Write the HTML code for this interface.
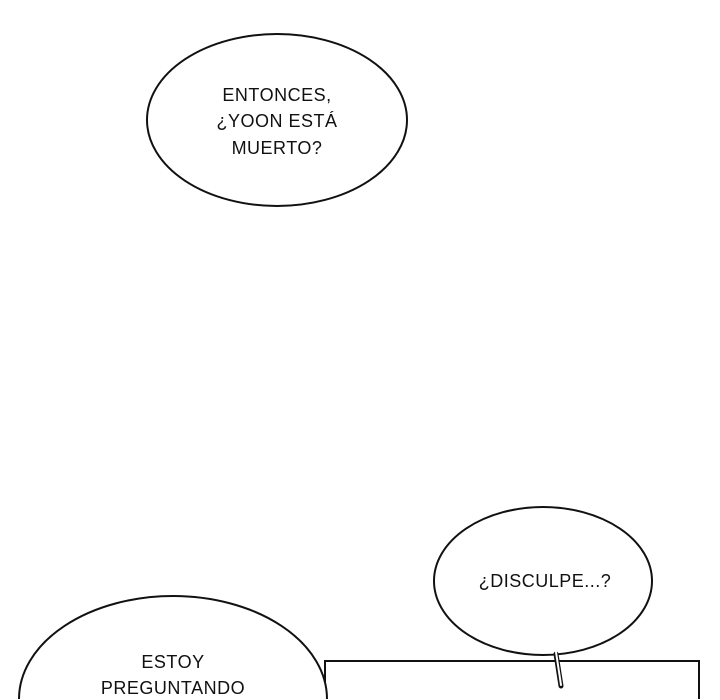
<!DOCTYPE html>
<html><head><style>
html,body{margin:0;padding:0;background:#fff;width:720px;height:700px;overflow:hidden}
svg{display:block}
text{font-family:"Liberation Sans",sans-serif;font-size:18px;fill:#111;text-anchor:middle;letter-spacing:0.5px}
</style></head><body>
<svg width="720" height="700" viewBox="0 0 720 700">
<rect width="720" height="700" fill="#fff"/>
<ellipse cx="277" cy="120" rx="130" ry="86" fill="#fff" stroke="#111" stroke-width="2"/>
<text x="277" y="101">ENTONCES,</text>
<text x="277" y="127">¿YOON ESTÁ</text>
<text x="277" y="154">MUERTO?</text>
<path d="M325 699 V661 H699 V699" fill="#fff" stroke="#111" stroke-width="2"/>
<path d="M19 699 A154 103 0 0 1 327 699 Z" fill="#fff" stroke="none"/>
<path d="M19 699 A154 103 0 0 1 327 699" fill="none" stroke="#111" stroke-width="2"/>
<text x="173" y="668">ESTOY</text>
<text x="173" y="694">PREGUNTANDO</text>
<ellipse cx="543" cy="581" rx="109" ry="74" fill="#fff" stroke="#111" stroke-width="2"/>
<path d="M556 654 L561 686" stroke="#111" stroke-width="5" stroke-linecap="round"/>
<path d="M556 652 L561 685" stroke="#fff" stroke-width="2" stroke-linecap="round"/>
<text x="545" y="587">¿DISCULPE...?</text>
</svg>
</body></html>
